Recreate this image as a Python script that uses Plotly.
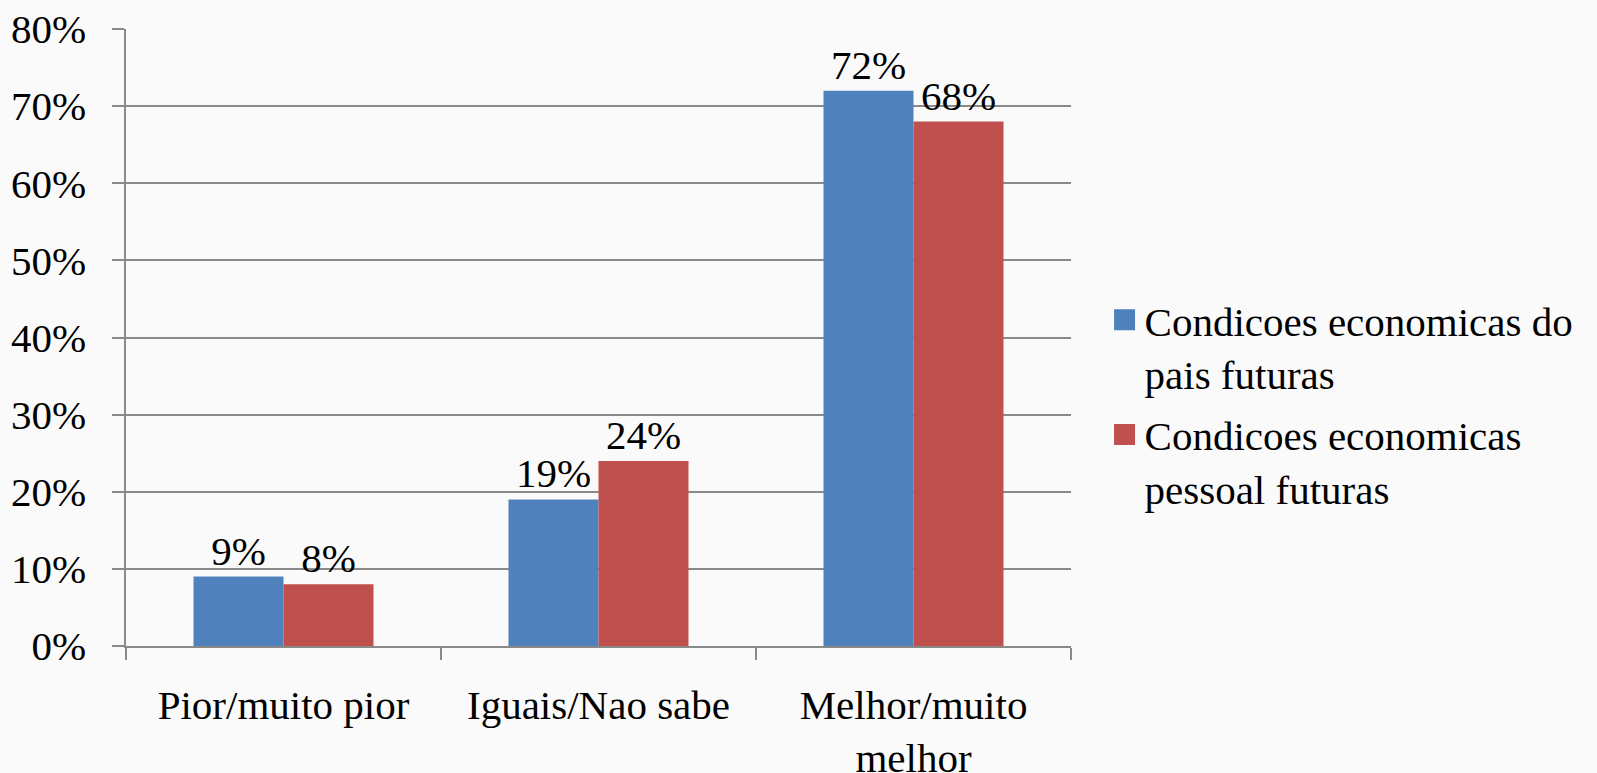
import plotly.graph_objects as go

categories = ["Pior/muito pior", "Iguais/Nao sabe", "Melhor/muito<br>melhor"]
series_names = ["Condicoes economicas do<br>pais futuras", "Condicoes economicas<br>pessoal futuras"]
pais_values = [0.09, 0.19, 0.72]
pessoal_values = [0.08, 0.24, 0.68]
y_ticks = [0, 0.1, 0.2, 0.3, 0.4, 0.5, 0.6, 0.7, 0.8]

colors = ["#4F81BD", "#C0504D"]
FONT = "Liberation Serif"
FS = 41
GRID = "#898989"

fig = go.Figure()
for i, (name, vals, col) in enumerate(zip(series_names, [pais_values, pessoal_values], colors)):
    fig.add_trace(go.Bar(
        x=categories, y=vals, name=name, marker_color=col, marker_line_width=0,
        texttemplate="%{y:.0%}", textposition="outside", cliponaxis=False,
        textfont=dict(family=FONT, size=FS, color="black"), showlegend=False,
    ))
    fig.add_trace(go.Scatter(
        x=[None], y=[None], mode="markers", name=name, legendgroup=f"g{i}",
        marker=dict(symbol="square", size=16, color=col, line=dict(color=col, width=5)),
        showlegend=True,
    ))

fig.update_layout(
    width=1597, height=773,
    margin=dict(l=126, r=526, t=29, b=127, autoexpand=False),
    paper_bgcolor="#fafafa", plot_bgcolor="rgba(0,0,0,0)",
    font=dict(family=FONT, size=FS, color="black"),
    barmode="group", bargap=0.4286, bargroupgap=0,
    legend=dict(x=1.0355, xanchor="left", y=0.392, yanchor="middle",
                font=dict(family=FONT, size=FS, color="black"),
                bgcolor="rgba(0,0,0,0)", valign="top", tracegroupgap=5,
                itemsizing="trace"),
    xaxis=dict(showline=True, linecolor=GRID, linewidth=1.5, ticks="outside",
               tickson="boundaries", ticklen=12, tickcolor=GRID, tickwidth=1.5,
               showgrid=False, tickfont=dict(family=FONT, size=FS), ticklabelstandoff=22,
               automargin=False),
    yaxis=dict(range=[0, 0.8], tickvals=y_ticks, tickformat=".0%", showline=True,
               linecolor=GRID, linewidth=1.5, showgrid=True, gridcolor=GRID, gridwidth=1.5,
               ticks="outside", ticklen=12, tickcolor=GRID, tickwidth=1.5,
               zeroline=False, tickfont=dict(family=FONT, size=FS), ticklabelstandoff=18,
               automargin=False),
)

fig.write_html("out.html", config={"displayModeBar": False},
               post_script="document.body.style.margin='0';document.body.style.overflow='hidden';")
